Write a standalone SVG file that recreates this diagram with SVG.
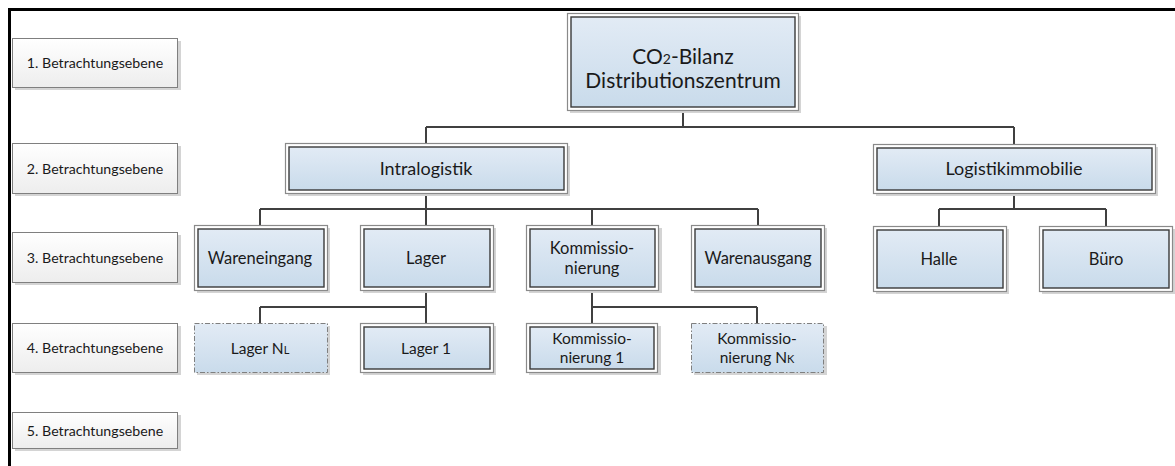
<svg xmlns="http://www.w3.org/2000/svg" width="1175" height="466" viewBox="0 0 1175 466">
<defs>
<linearGradient id="gBlue" x1="0" y1="0" x2="0" y2="1">
<stop offset="0" stop-color="#e2ebf5"/>
<stop offset="1" stop-color="#c9dbeb"/>
</linearGradient>
<linearGradient id="gGrey" x1="0" y1="0" x2="0" y2="1">
<stop offset="0" stop-color="#ffffff"/>
<stop offset="1" stop-color="#ededed"/>
</linearGradient>
</defs>
<style>
text{font-family:Lato,"Liberation Sans",sans-serif;fill:#1a1a1a;text-anchor:middle}
.shadow{fill:#d4d4d4}
.outer{fill:#ffffff;stroke:#8a8a8a;stroke-width:1.2}
.inner{fill:url(#gBlue);stroke:#3a3a3a;stroke-width:1.4}
.dash{fill:url(#gBlue);stroke:#7f7f7f;stroke-width:1;stroke-dasharray:5 2 1.5 2}
.lvl{fill:url(#gGrey);stroke:#7f7f7f;stroke-width:1}
.conn{fill:none;stroke:#404040;stroke-width:2}
.lt{font-size:14.2px}
.n2{font-size:18px}
.n3{font-size:16.5px}
.n4{font-size:15.5px}
</style>
<rect x="0" y="0" width="1175" height="466" fill="#ffffff"/>
<path d="M9.5 466 V9.5 H1175" fill="none" stroke="#000000" stroke-width="3"/>

<g id="connectors">
<path class="conn" d="M683 110 V127 M426 127 H1014 M426 127 V143 M1014 127 V144"/>
<path class="conn" d="M426 193 V209 M260 209 H758 M260 209 V225 M426 209 V225 M592 209 V225 M758 209 V225"/>
<path class="conn" d="M1014 193 V209 M939 209 H1106 M939 209 V226 M1106 209 V226"/>
<path class="conn" d="M426 290 V307 M260 307 H426 M260 307 V323 M426 307 V323"/>
<path class="conn" d="M592 290 V307 M592 307 H757 M592 307 V323 M757 307 V323"/>
</g>

<g id="level1"><rect class="shadow" x="15" y="41" width="166" height="49"/><rect class="lvl" x="12.5" y="38.5" width="165" height="49"/><text class="lt" x="95" y="68">1. Betrachtungsebene</text></g>
<g id="level2"><rect class="shadow" x="15" y="146" width="166" height="50"/><rect class="lvl" x="12.5" y="143.5" width="165" height="50"/><text class="lt" x="95" y="173.5">2. Betrachtungsebene</text></g>
<g id="level3"><rect class="shadow" x="15" y="235" width="166" height="50"/><rect class="lvl" x="12.5" y="232.5" width="165" height="50"/><text class="lt" x="95" y="262.5">3. Betrachtungsebene</text></g>
<g id="level4"><rect class="shadow" x="15" y="326" width="166" height="49"/><rect class="lvl" x="12.5" y="323.5" width="165" height="49"/><text class="lt" x="95" y="353">4. Betrachtungsebene</text></g>
<g id="level5"><rect class="shadow" x="15" y="415" width="166" height="36"/><rect class="lvl" x="12.5" y="412.5" width="165" height="36"/><text class="lt" x="95" y="435.5">5. Betrachtungsebene</text></g>

<g id="root"><rect class="shadow" x="570" y="16" width="231" height="97"/><rect class="outer" x="567.5" y="13.5" width="231" height="97"/><rect class="inner" x="571" y="17" width="224" height="90"/>
<text x="683" y="64" font-size="21">CO<tspan font-size="14">2</tspan>-Bilanz</text><text x="683" y="88" font-size="21">Distributionszentrum</text></g>

<g id="intralogistik"><rect class="shadow" x="288" y="146" width="282" height="50"/><rect class="outer" x="285.5" y="143.5" width="282" height="50"/><rect class="inner" x="289" y="147" width="275" height="43"/><text class="n2" x="426" y="174.5">Intralogistik</text></g>
<g id="logistikimmobilie"><rect class="shadow" x="876" y="147" width="282" height="49"/><rect class="outer" x="873.5" y="144.5" width="282" height="49"/><rect class="inner" x="877" y="148" width="275" height="42"/><text class="n2" x="1014" y="175">Logistikimmobilie</text></g>

<g id="wareneingang"><rect class="shadow" x="197" y="228" width="133" height="65"/><rect class="outer" x="194.5" y="225.5" width="133" height="65"/><rect class="inner" x="198" y="229" width="126" height="58"/><text class="n3" x="260" y="264">Wareneingang</text></g>
<g id="lager"><rect class="shadow" x="363" y="228" width="133" height="65"/><rect class="outer" x="360.5" y="225.5" width="133" height="65"/><rect class="inner" x="364" y="229" width="126" height="58"/><text class="n3" x="426" y="264">Lager</text></g>
<g id="kommissionierung"><rect class="shadow" x="529" y="228" width="133" height="65"/><rect class="outer" x="526.5" y="225.5" width="132" height="65"/><rect class="inner" x="530" y="229" width="125" height="58"/><text class="n3" x="592" y="254">Kommissio-</text><text class="n3" x="592" y="274">nierung</text></g>
<g id="warenausgang"><rect class="shadow" x="694" y="228" width="133" height="65"/><rect class="outer" x="691.5" y="225.5" width="133" height="65"/><rect class="inner" x="695" y="229" width="126" height="58"/><text class="n3" x="758" y="264">Warenausgang</text></g>
<g id="halle"><rect class="shadow" x="876" y="229" width="133" height="65"/><rect class="outer" x="873.5" y="226.5" width="133" height="65"/><rect class="inner" x="877" y="230" width="126" height="58"/><text class="n3" x="939" y="265">Halle</text></g>
<g id="buero"><rect class="shadow" x="1042" y="229" width="133" height="65"/><rect class="outer" x="1039.5" y="226.5" width="133" height="65"/><rect class="inner" x="1043" y="230" width="126" height="58"/><text class="n3" x="1106" y="265">Büro</text></g>

<g id="lagerNL"><rect class="shadow" x="197" y="326" width="133" height="49"/><rect class="dash" x="194.5" y="323.5" width="133" height="49"/><text class="n4" x="260" y="353.5">Lager N<tspan font-size="11">L</tspan></text></g>
<g id="lager1"><rect class="shadow" x="363" y="326" width="133" height="49"/><rect class="outer" x="360.5" y="323.5" width="133" height="49"/><rect class="inner" x="364" y="327" width="126" height="42"/><text class="n4" x="426" y="353.5">Lager 1</text></g>
<g id="komm1"><rect class="shadow" x="529" y="326" width="132" height="49"/><rect class="outer" x="526.5" y="323.5" width="131" height="49"/><rect class="inner" x="530" y="327" width="124" height="42"/><text class="n4" x="592" y="344">Kommissio-</text><text class="n4" x="592" y="363">nierung 1</text></g>
<g id="kommNK"><rect class="shadow" x="694" y="326" width="133" height="49"/><rect class="dash" x="691.5" y="323.5" width="132" height="49"/><text class="n4" x="757" y="344">Kommissio-</text><text class="n4" x="757" y="363">nierung N<tspan font-size="11">K</tspan></text></g>
</svg>
